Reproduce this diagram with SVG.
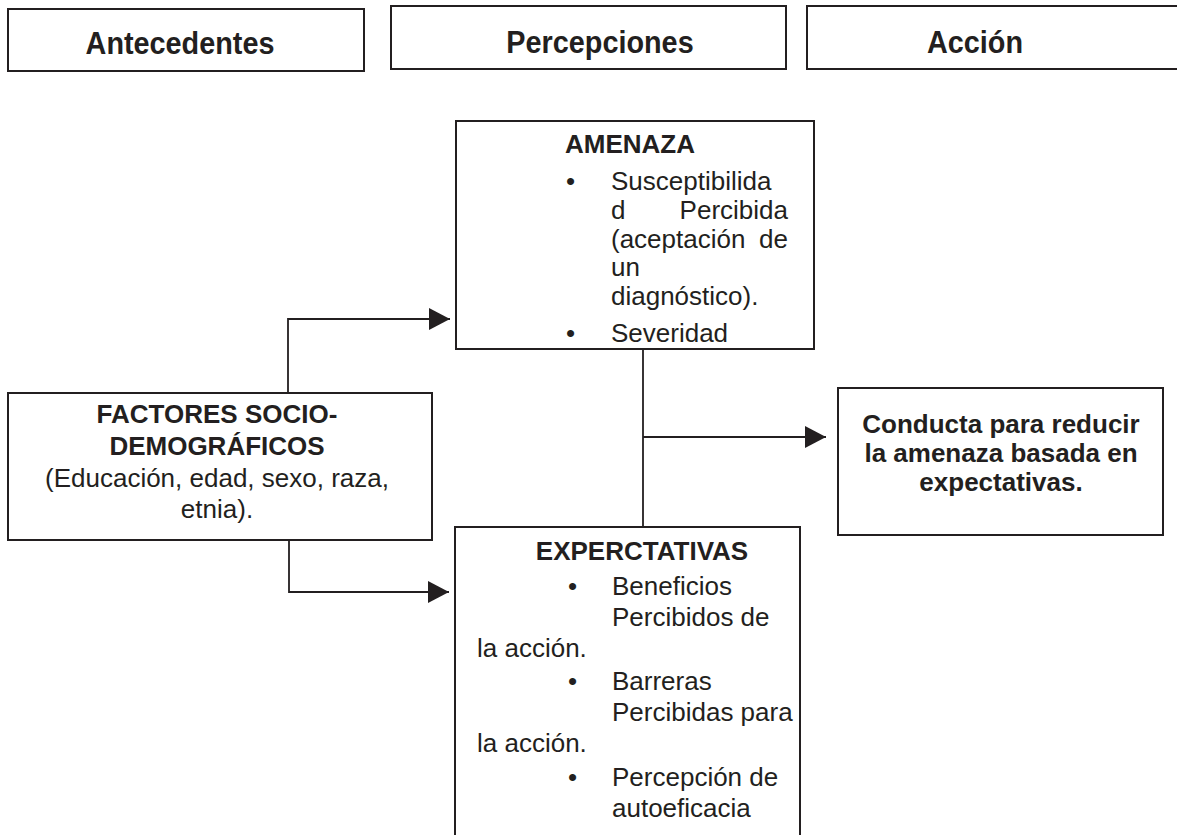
<svg xmlns="http://www.w3.org/2000/svg" width="1177" height="835" viewBox="0 0 1177 835">
<style>
.box{fill:#fff;stroke:#231f20;stroke-width:2}
.con{fill:none;stroke:#231f20;stroke-width:1.8}
text{font-family:"Liberation Sans",Arial,Helvetica,sans-serif;fill:#231f20}
.h{font-size:32px;font-weight:bold;text-anchor:middle}
.t{font-size:26px}
.b{font-weight:bold}
.c{text-anchor:middle}
.e{text-anchor:end}
</style>
<defs>
<marker id="ah" markerUnits="userSpaceOnUse" markerWidth="22" markerHeight="22" refX="21" refY="11" orient="auto">
<path d="M0,0 L21,11 L0,22 Z" fill="#231f20"/>
</marker>
</defs>
<rect width="1177" height="835" fill="#fff"/>
<g id="hdr-antecedentes">
<rect class="box" x="8" y="9" width="356" height="62"/>
<text class="h" transform="translate(180,54) scale(0.9,1)">Antecedentes</text>
</g>
<g id="hdr-percepciones">
<rect class="box" x="391" y="6" width="395" height="63"/>
<text class="h" transform="translate(600,53) scale(0.9,1)">Percepciones</text>
</g>
<g id="hdr-accion">
<rect class="box" x="807" y="6" width="390" height="63"/>
<text class="h" transform="translate(975,53) scale(0.9,1)">Acción</text>
</g>
<g id="connectors">
<path class="con" d="M288,393 V319 H450" marker-end="url(#ah)"/>
<path class="con" d="M289,540 V592 H449" marker-end="url(#ah)"/>
<path class="con" d="M643,349 V527"/>
<path class="con" d="M643,437 H826" marker-end="url(#ah)"/>
</g>
<g id="amenaza">
<rect class="box" x="456" y="121" width="358" height="228"/>
<text class="t b" x="565" y="153">AMENAZA</text>
<text class="t" x="566" y="190">•</text>
<text class="t" x="611" y="190">Susceptibilida</text>
<text class="t" x="611" y="219">d</text>
<text class="t e" x="788" y="219">Percibida</text>
<text class="t" x="611" y="248">(aceptación</text>
<text class="t e" x="788" y="248">de</text>
<text class="t" x="611" y="276">un</text>
<text class="t" x="611" y="305">diagnóstico).</text>
<text class="t" x="566" y="342">•</text>
<text class="t" x="611" y="342">Severidad</text>
</g>
<g id="factores">
<rect class="box" x="8" y="393" width="424" height="147"/>
<text class="t b c" x="217" y="423">FACTORES SOCIO-</text>
<text class="t b c" x="217" y="455">DEMOGRÁFICOS</text>
<text class="t c" x="217" y="487">(Educación, edad, sexo, raza,</text>
<text class="t c" x="217" y="518">etnia).</text>
</g>
<g id="conducta">
<rect class="box" x="838" y="388" width="325" height="147"/>
<text class="t b c" x="1001" y="433">Conducta para reducir</text>
<text class="t b c" x="1001" y="462">la amenaza basada en</text>
<text class="t b c" x="1001" y="491">expectativas.</text>
</g>
<g id="expectativas">
<rect class="box" x="455" y="527" width="345" height="330"/>
<text class="t b c" x="642" y="560">EXPERCTATIVAS</text>
<text class="t" x="568" y="595">•</text>
<text class="t" x="612" y="595">Beneficios</text>
<text class="t" x="612" y="626">Percibidos de</text>
<text class="t" x="477" y="657">la acción.</text>
<text class="t" x="568" y="690">•</text>
<text class="t" x="612" y="690">Barreras</text>
<text class="t" x="612" y="721">Percibidas para</text>
<text class="t" x="477" y="752">la acción.</text>
<text class="t" x="568" y="786">•</text>
<text class="t" x="612" y="786">Percepción de</text>
<text class="t" x="612" y="817">autoeficacia</text>
</g>
</svg>
